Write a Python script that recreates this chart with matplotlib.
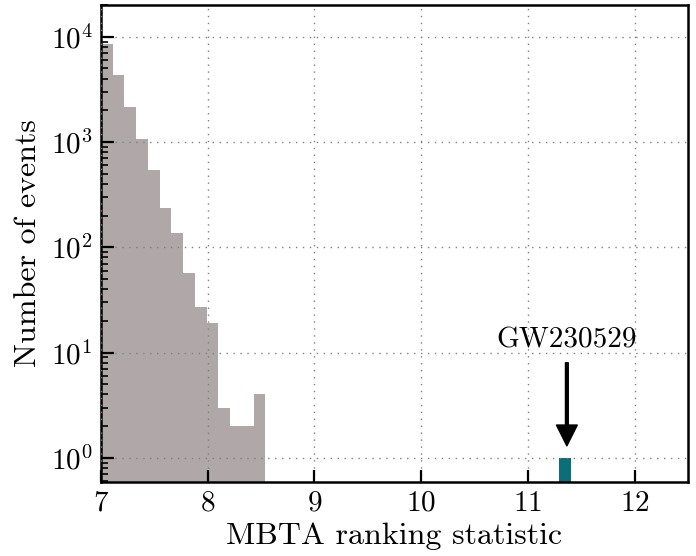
import numpy as np
import matplotlib
matplotlib.use("Agg")
import matplotlib.pyplot as plt

# background events, 14 bins from 7.0 to ~8.54
bin_edges = [7.0, 7.11, 7.22, 7.33, 7.44, 7.55, 7.66, 7.77, 7.88, 7.99,
             8.10, 8.21, 8.32, 8.43, 8.54]
bg_counts = [8500, 4330, 2160, 1070, 538, 234, 138, 57, 27, 19, 3, 2, 2, 4]

# the candidate
event_name = "GW230529"
event_edges = [11.29, 11.40]
event_counts = [1]

plt.rcParams["font.family"] = "serif"
plt.rcParams["font.serif"] = ["cmr10"]
plt.rcParams["mathtext.fontset"] = "cm"
plt.rcParams["axes.formatter.use_mathtext"] = True

fig = plt.figure(figsize=(6.96, 5.56), dpi=100)
ax = fig.add_axes([101/696, 1 - 482/556, (688-101)/696, (482-5)/556])

ax.stairs(bg_counts, bin_edges, fill=True, color="#b0a8a8", baseline=1e-3)
ax.stairs(event_counts, event_edges, fill=True, color="#0b6e79", baseline=1e-3)

ax.set_yscale("log")
ax.set_xlim(7, 12.5)
ax.set_ylim(0.59, 2.0e4)

ax.grid(True, linestyle=(0, (1, 4)), color="gray", linewidth=1)
ax.set_axisbelow(False)
ax.tick_params(direction="in", which="major", length=9, width=1.6,
               labelsize=21, pad=6)
ax.tick_params(direction="in", which="minor", length=5, width=1.2)
for s in ax.spines.values():
    s.set_linewidth(1.8)

ax.set_xlabel("MBTA ranking statistic", fontsize=23, labelpad=4)
ax.set_ylabel("Number of events", fontsize=23, labelpad=6)

xc = 0.5 * (event_edges[0] + event_edges[1])
ax.text(xc + 0.02, 11.2, event_name, ha="center", va="baseline", fontsize=21)
ax.annotate("", xy=(xc + 0.02, 1.3), xytext=(xc + 0.02, 8.0),
            arrowprops=dict(facecolor="black", edgecolor="black", width=2,
                            headwidth=15, headlength=15, shrink=0))

fig.savefig("out.png", dpi=100)
